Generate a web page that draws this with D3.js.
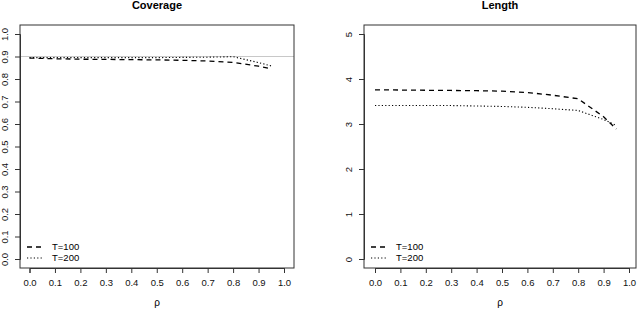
<!DOCTYPE html>
<html>
<head>
<meta charset="utf-8">
<script src="https://cdn.jsdelivr.net/npm/d3@7"></script>
<style>
  body { margin: 0; background: #fff; }
  text { font-family: "Liberation Sans", Arial, sans-serif; }
</style>
</head>
<body>
<svg id="chart" width="640" height="310"></svg>
<script>
const rho = [0, 0.1, 0.2, 0.3, 0.4, 0.5, 0.6, 0.7, 0.8, 0.9, 0.95];
const xTicks = [0, 0.1, 0.2, 0.3, 0.4, 0.5, 0.6, 0.7, 0.8, 0.9, 1.0];

const coverageT100 = [0.893, 0.890, 0.888, 0.887, 0.886, 0.885, 0.883, 0.880, 0.874, 0.857, 0.845];
const coverageT200 = [0.895, 0.895, 0.895, 0.895, 0.895, 0.895, 0.896, 0.897, 0.899, 0.873, 0.858];
const coverageTicks = [0, 0.1, 0.2, 0.3, 0.4, 0.5, 0.6, 0.7, 0.8, 0.9, 1.0];

const lengthT100 = [3.76, 3.755, 3.75, 3.745, 3.74, 3.73, 3.70, 3.64, 3.56, 3.16, 2.89];
const lengthT200 = [3.41, 3.41, 3.41, 3.41, 3.40, 3.39, 3.37, 3.34, 3.30, 3.10, 2.97];
const lengthTicks = [0, 1, 2, 3, 4, 5];

const legendLabels = ["T=100", "T=200"];

const svg = d3.select("#chart");

function panel(opts) {
    const { left, right, top, bottom, title, yDomain, yRange, xRange, yTicks, yFmt, series, refLine } = opts;
    const g = svg.append("g");

    const x = d3.scaleLinear().domain([0, 1]).range(xRange);
    const y = d3.scaleLinear().domain(yDomain).range(yRange);

    // reference line
    if (refLine !== undefined) {
        g.append("line")
            .attr("x1", left).attr("x2", right)
            .attr("y1", y(refLine)).attr("y2", y(refLine))
            .attr("stroke", "#c8c8c8").attr("stroke-width", 1);
    }

    const line = d3.line().x((d, i) => x(rho[i])).y(d => y(d));
    const dashes = ["5,4", "1.2,2.2"];
    series.forEach((s, i) => {
        g.append("path")
            .datum(s)
            .attr("d", line)
            .attr("fill", "none")
            .attr("stroke", "#000")
            .attr("stroke-width", i === 0 ? 1.3 : 1.1)
            .attr("stroke-dasharray", dashes[i]);
    });

    // box
    g.append("rect")
        .attr("x", left).attr("y", top)
        .attr("width", right - left).attr("height", bottom - top)
        .attr("fill", "none").attr("stroke", "#333").attr("stroke-width", 1);

    // x axis
    const xAxis = g.append("g")
        .attr("transform", `translate(0,${bottom})`)
        .call(d3.axisBottom(x).tickValues(xTicks).tickFormat(d3.format(".1f")).tickSize(5).tickPadding(6));
    xAxis.select(".domain").attr("stroke", "#333");
    xAxis.selectAll(".tick line").attr("stroke", "#333");
    xAxis.selectAll("text").attr("font-size", 9.5).attr("fill", "#111")
        .attr("font-family", "Liberation Sans, Arial, sans-serif");

    // y axis
    const yAxis = g.append("g")
        .attr("transform", `translate(${left},0)`)
        .call(d3.axisLeft(y).tickValues(yTicks).tickFormat(yFmt).tickSize(5).tickPadding(0));
    yAxis.select(".domain").attr("stroke", "#333");
    yAxis.selectAll(".tick line").attr("stroke", "#333");
    yAxis.selectAll(".tick text").remove();
    yAxis.selectAll(".tick").append("text")
        .attr("transform", `translate(${-15.5},0) rotate(-90)`)
        .attr("text-anchor", "middle")
        .attr("dy", "0.35em")
        .attr("font-size", 9.5)
        .attr("fill", "#111")
        .attr("font-family", "Liberation Sans, Arial, sans-serif")
        .text(yFmt);

    // title
    g.append("text")
        .attr("x", (left + right) / 2).attr("y", 9)
        .attr("text-anchor", "middle")
        .attr("font-weight", "bold")
        .attr("font-size", 11)
        .text(title);

    // x label
    g.append("text")
        .attr("x", (left + right) / 2).attr("y", 306)
        .attr("text-anchor", "middle")
        .attr("font-size", 10)
        .text("ρ");

    // legend
    legendLabels.forEach((lab, i) => {
        const ly = 247 + i * 11;
        g.append("line")
            .attr("x1", left + 7).attr("x2", left + 23)
            .attr("y1", ly).attr("y2", ly)
            .attr("stroke", "#000")
            .attr("stroke-width", i === 0 ? 1.3 : 1.1)
            .attr("stroke-dasharray", dashes[i]);
        g.append("text")
            .attr("x", left + 32).attr("y", ly)
            .attr("dy", "0.35em")
            .attr("font-size", 9.5)
            .text(lab);
    });
}

panel({
    left: 20, right: 294, top: 25, bottom: 268,
    title: "Coverage",
    yDomain: [0, 1], yRange: [259, 34], xRange: [29.5, 284],
    yTicks: coverageTicks, yFmt: d3.format(".1f"),
    series: [coverageT100, coverageT200],
    refLine: 0.9
});

panel({
    left: 364, right: 636, top: 25, bottom: 268,
    title: "Length",
    yDomain: [0, 5], yRange: [259, 34], xRange: [375, 629],
    yTicks: lengthTicks, yFmt: d3.format("d"),
    series: [lengthT100, lengthT200]
});
</script>
</body>
</html>
